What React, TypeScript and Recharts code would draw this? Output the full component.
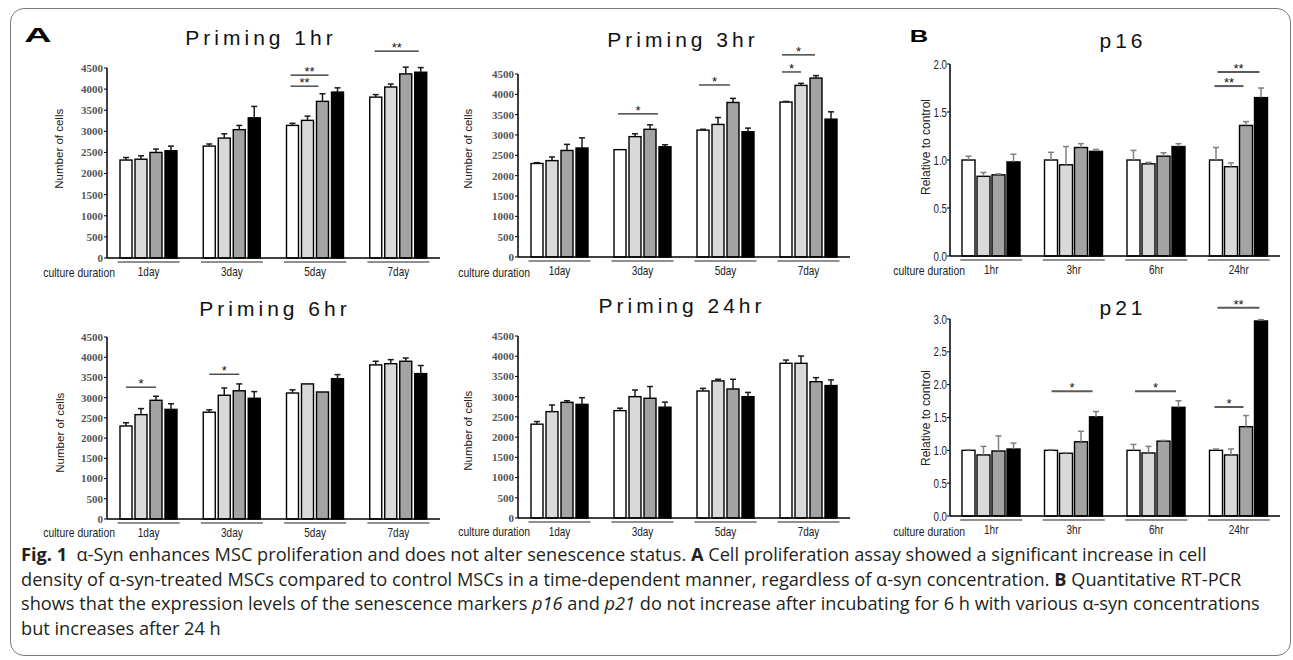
import React from "react";
import { Bar, BarChart, XAxis, YAxis } from "recharts";

const DAYS = ["1day", "3day", "5day", "7day"];
const HOURS = ["1hr", "3hr", "6hr", "24hr"];
const CELL_TICKS = [0, 500, 1000, 1500, 2000, 2500, 3000, 3500, 4000, 4500];
const P16_TICKS = [0, 0.5, 1, 1.5, 2];
const P21_TICKS = [0, 0.5, 1, 1.5, 2, 2.5, 3];
const FILLS = ["#ffffff", "#d9d9d9", "#a3a3a3", "#000000"];

// rows = culture duration, columns = the four α-syn conditions
const PRIMING_1HR_MEAN = [
  [2320, 2340, 2500, 2540],
  [2650, 2840, 3040, 3320],
  [3140, 3260, 3710, 3930],
  [3810, 4050, 4360, 4400],
];
const PRIMING_1HR_ERR = [
  [60, 80, 80, 110],
  [50, 100, 100, 270],
  [50, 100, 180, 100],
  [60, 70, 160, 110],
];

const PRIMING_3HR_MEAN = [
  [2300, 2370, 2620, 2680],
  [2640, 2960, 3140, 2710],
  [3120, 3260, 3800, 3080],
  [3810, 4220, 4400, 3390],
];
const PRIMING_3HR_ERR = [
  [20, 90, 150, 250],
  [0, 70, 110, 50],
  [20, 170, 100, 90],
  [15, 50, 60, 180],
];

const PRIMING_6HR_MEAN = [
  [2300, 2580, 2935, 2710],
  [2640, 3060, 3170, 2985],
  [3115, 3340, 3140, 3470],
  [3810, 3840, 3900, 3595],
];
const PRIMING_6HR_ERR = [
  [80, 150, 100, 140],
  [60, 180, 170, 165],
  [80, 0, 0, 100],
  [90, 100, 80, 200],
];

const PRIMING_24HR_MEAN = [
  [2320, 2630, 2860, 2810],
  [2655, 3000, 2960, 2740],
  [3140, 3390, 3190, 3000],
  [3825, 3825, 3370, 3275],
];
const PRIMING_24HR_ERR = [
  [65, 165, 40, 165],
  [60, 165, 290, 125],
  [65, 40, 240, 105],
  [80, 180, 100, 140],
];

const P16_MEAN = [
  [1.0, 0.83, 0.845, 0.98],
  [1.0, 0.95, 1.13, 1.09],
  [1.0, 0.96, 1.04, 1.14],
  [1.0, 0.93, 1.36, 1.65],
];
const P16_ERR = [
  [0.04, 0.04, 0.01, 0.08],
  [0.08, 0.19, 0.04, 0.02],
  [0.1, 0.015, 0.035, 0.03],
  [0.13, 0.04, 0.04, 0.1],
];

const P21_MEAN = [
  [1.0, 0.93, 0.99, 1.02],
  [1.0, 0.955, 1.13, 1.51],
  [1.0, 0.96, 1.14, 1.655],
  [1.0, 0.93, 1.36, 2.97],
];
const P21_ERR = [
  [0.01, 0.13, 0.23, 0.09],
  [0.01, 0.01, 0.16, 0.08],
  [0.09, 0.1, 0.01, 0.1],
  [0.02, 0.09, 0.17, 0.02],
];

// [group, from, to, level, mark] - from/to counted in bar pitches from the group's first bar
type Sig = [number, number, number, number, string];
const PRIMING_1HR_SIG: Sig[] = [
  [2, 0.27, 2.8, 4330, "**"],
  [2, 0.27, 2.13, 4070, "**"],
  [3, 0.33, 3.27, 4900, "**"],
];
const PRIMING_3HR_SIG: Sig[] = [
  [1, 0.27, 2.93, 3520, "*"],
  [2, 0.13, 2.2, 4230, "*"],
  [3, 0.13, 1.4, 4550, "*"],
  [3, 0.13, 2.33, 4970, "*"],
];
const PRIMING_6HR_SIG: Sig[] = [
  [0, 0.4, 2.4, 3260, "*"],
  [1, 0.4, 2.4, 3580, "*"],
];
const PRIMING_24HR_SIG: Sig[] = [];
const P16_SIG: Sig[] = [
  [3, 0.33, 2.27, 1.77, "**"],
  [3, 0.53, 3.33, 1.917, "**"],
];
const P21_SIG: Sig[] = [
  [1, 0.47, 3.2, 1.9, "*"],
  [2, 0.53, 3.27, 1.9, "*"],
  [3, 0.33, 2.27, 1.66, "*"],
  [3, 0.53, 3.33, 3.17, "**"],
];

const SANS = "'Liberation Sans', Arial, sans-serif";
const NARROW_SCALE = 0.8;

const A_STYLE = { barSize: 12, gap: 3, errColor: "#1a1a1a", sigColor: "#222", sigWidth: 1.2 };
const B_STYLE = { barSize: 13, gap: 2, errColor: "#808080", sigColor: "#5a5a5a", sigWidth: 2 };

type PanelProps = {
  left: number;
  top: number;
  width: number;
  height: number;
  plot: [number, number, number, number];
  cats: string[];
  mean: number[][];
  err: number[][];
  sig: Sig[];
  domain: [number, number];
  ticks: number[];
  kind: "A" | "B";
};

function GroupTick(props: any) {
  const { x, y, payload } = props;
  return (
    <g>
      <line x1={x - 31} x2={x + 31} y1={y + 4} y2={y + 4} stroke="#6b6b6b" strokeWidth={1.5} />
      <text
        transform={`translate(${x} ${y + 18}) scale(${NARROW_SCALE} 1)`}
        textAnchor="middle"
        fontFamily={SANS}
        fontSize={12.5}
        fill="#222"
      >
        {payload.value}
      </text>
    </g>
  );
}

function RatioTick(props: any) {
  const { x, y, payload } = props;
  return (
    <text
      transform={`translate(${x} ${y + 4.5}) scale(0.78 1)`}
      textAnchor="end"
      fontFamily={SANS}
      fontSize={12.5}
      fill="#222"
    >
      {Number(payload.value).toFixed(1)}
    </text>
  );
}

function Panel(p: PanelProps) {
  const st = p.kind === "A" ? A_STYLE : B_STYLE;
  const [pl, pt, pr, pb] = p.plot;
  const xAxisHeight = 28;
  const yAxisWidth = pl - p.left;
  const margin = {
    top: pt - p.top,
    left: 0,
    right: p.left + p.width - pr,
    bottom: p.top + p.height - pb - xAxisHeight,
  };
  const rows = p.cats.map((cat, i) => ({
    cat,
    s0: p.mean[i][0],
    s1: p.mean[i][1],
    s2: p.mean[i][2],
    s3: p.mean[i][3],
  }));

  const makeShape = (s: number) => (bp: any) => {
    const { x, y, width, height, index } = bp;
    const v = p.mean[index][s];
    const k = v ? height / v : 0;
    const base = y + height;
    const e = p.err[index][s] * k;
    const cx = x + width / 2;
    const pitch = width + st.gap;
    return (
      <g>
        <rect x={x} y={y} width={width} height={height} fill={FILLS[s]} stroke="#000" strokeWidth={1.4} />
        {e > 0.5 && (
          <g stroke={st.errColor} strokeWidth={1.5}>
            <line x1={cx} x2={cx} y1={y} y2={y - e} />
            <line x1={cx - 3} x2={cx + 3} y1={y - e} y2={y - e} />
          </g>
        )}
        {s === 0 &&
          p.sig
            .filter((g) => g[0] === index)
            .map((g, j) => {
              const ly = base - g[3] * k;
              const x1 = x + g[1] * pitch;
              const x2 = x + g[2] * pitch;
              return (
                <g key={j}>
                  <line x1={x1} x2={x2} y1={ly} y2={ly} stroke={st.sigColor} strokeWidth={st.sigWidth} />
                  <text x={(x1 + x2) / 2} y={ly + 1} textAnchor="middle" fontFamily={SANS} fontSize={13} fill="#111">
                    {g[4]}
                  </text>
                </g>
              );
            })}
      </g>
    );
  };

  return (
    <div style={{ position: "absolute", left: p.left, top: p.top }}>
      <BarChart
        width={p.width}
        height={p.height}
        data={rows}
        margin={margin}
        barGap={st.gap}
        barSize={st.barSize}
      >
        <XAxis
          dataKey="cat"
          height={xAxisHeight}
          interval={0}
          tickLine={false}
          tickSize={0}
          tickMargin={0}
          axisLine={{ stroke: "#000", strokeWidth: 1.5 }}
          tick={<GroupTick />}
        />
        {p.kind === "A" ? (
          <YAxis
            type="number"
            width={yAxisWidth}
            domain={p.domain}
            ticks={p.ticks}
            interval={0}
            tickSize={3}
            tickMargin={1}
            axisLine={{ stroke: "#000", strokeWidth: 1.5 }}
            tickLine={{ stroke: "#000" }}
            tick={{
              fontFamily: "'Liberation Serif', 'Times New Roman', serif",
              fontSize: 11,
              fontWeight: 700,
              fill: "#555",
            }}
          />
        ) : (
          <YAxis
            type="number"
            width={yAxisWidth}
            domain={p.domain}
            ticks={p.ticks}
            interval={0}
            tickSize={3}
            tickMargin={0}
            axisLine={{ stroke: "#000", strokeWidth: 1.5 }}
            tickLine={{ stroke: "#000" }}
            tick={<RatioTick />}
          />
        )}
        {[0, 1, 2, 3].map((s) => (
          <Bar key={s} dataKey={`s${s}`} isAnimationActive={false} shape={makeShape(s)} />
        ))}
      </BarChart>
    </div>
  );
}

function Abs({
  x,
  y,
  children,
  style,
  tx = "-50%",
}: {
  x: number;
  y: number;
  children: React.ReactNode;
  style?: React.CSSProperties;
  tx?: string;
}) {
  return (
    <div
      style={{
        position: "absolute",
        left: x,
        top: y,
        transform: `translate(${tx}, -50%)`,
        whiteSpace: "nowrap",
        lineHeight: 1,
      }}
    >
      <span style={{ display: "inline-block", ...style }}>{children}</span>
    </div>
  );
}

const titleStyle: React.CSSProperties = { fontFamily: SANS, fontSize: 21, letterSpacing: 4, marginRight: -4, color: "#111" };
const yLabelA: React.CSSProperties = { fontFamily: SANS, fontSize: 11.5, color: "#222", transform: "rotate(-90deg)" };
const yLabelB: React.CSSProperties = { fontFamily: SANS, fontSize: 12, color: "#222", transform: "rotate(-90deg)" };
const cdStyle: React.CSSProperties = {
  fontFamily: SANS,
  fontSize: 13,
  color: "#222",
  transform: `scaleX(${NARROW_SCALE})`,
  transformOrigin: "right center",
};

export default function App() {
  return (
    <div style={{ position: "relative", width: 1293, height: 660, background: "#fff", overflow: "hidden" }}>
      <style>{`body{margin:0}`}</style>
      <div
        style={{
          position: "absolute",
          left: 10,
          top: 8,
          width: 1281,
          height: 648,
          border: "1px solid #7a7a7a",
          borderRadius: 14,
          boxSizing: "border-box",
        }}
      />

      <Panel left={20} top={36} width={425} height={250} plot={[107, 68, 440, 258]} cats={DAYS}
        mean={PRIMING_1HR_MEAN} err={PRIMING_1HR_ERR} sig={PRIMING_1HR_SIG} domain={[0, 4500]} ticks={CELL_TICKS} kind="A" />
      <Panel left={450} top={36} width={405} height={250} plot={[518, 74, 850, 257]} cats={DAYS}
        mean={PRIMING_3HR_MEAN} err={PRIMING_3HR_ERR} sig={PRIMING_3HR_SIG} domain={[0, 4500]} ticks={CELL_TICKS} kind="A" />
      <Panel left={20} top={320} width={425} height={230} plot={[107, 337, 440, 519]} cats={DAYS}
        mean={PRIMING_6HR_MEAN} err={PRIMING_6HR_ERR} sig={PRIMING_6HR_SIG} domain={[0, 4500]} ticks={CELL_TICKS} kind="A" />
      <Panel left={450} top={320} width={405} height={230} plot={[518, 336, 850, 518]} cats={DAYS}
        mean={PRIMING_24HR_MEAN} err={PRIMING_24HR_ERR} sig={PRIMING_24HR_SIG} domain={[0, 4500]} ticks={CELL_TICKS} kind="A" />
      <Panel left={885} top={40} width={400} height={246} plot={[950, 64, 1280, 256]} cats={HOURS}
        mean={P16_MEAN} err={P16_ERR} sig={P16_SIG} domain={[0, 2]} ticks={P16_TICKS} kind="B" />
      <Panel left={885} top={290} width={400} height={260} plot={[950, 319, 1280, 516]} cats={HOURS}
        mean={P21_MEAN} err={P21_ERR} sig={P21_SIG} domain={[0, 3]} ticks={P21_TICKS} kind="B" />

      <Abs x={38} y={34} style={{ fontFamily: SANS, fontSize: 21, fontWeight: 700, transform: "scaleX(1.8)" }}>A</Abs>
      <Abs x={919} y={36} style={{ fontFamily: SANS, fontSize: 17, fontWeight: 700, transform: "scaleX(1.5)" }}>B</Abs>

      <Abs x={259} y={37} style={titleStyle}>Priming 1hr</Abs>
      <Abs x={681} y={39} style={titleStyle}>Priming 3hr</Abs>
      <Abs x={273} y={308} style={titleStyle}>Priming 6hr</Abs>
      <Abs x={680} y={305} style={titleStyle}>Priming 24hr</Abs>
      <Abs x={1121} y={40} style={titleStyle}>p16</Abs>
      <Abs x={1121} y={307} style={titleStyle}>p21</Abs>

      <Abs x={60} y={147} style={yLabelA}>Number of cells</Abs>
      <Abs x={469} y={147} style={yLabelA}>Number of cells</Abs>
      <Abs x={61} y={431} style={yLabelA}>Number of cells</Abs>
      <Abs x={469} y={429} style={yLabelA}>Number of cells</Abs>
      <Abs x={926} y={146} style={yLabelB}>Relative to control</Abs>
      <Abs x={926} y={417} style={yLabelB}>Relative to control</Abs>

      <Abs x={115} y={272} tx="-100%" style={cdStyle}>culture duration</Abs>
      <Abs x={530} y={272} tx="-100%" style={cdStyle}>culture duration</Abs>
      <Abs x={115} y={532} tx="-100%" style={cdStyle}>culture duration</Abs>
      <Abs x={530} y={531} tx="-100%" style={cdStyle}>culture duration</Abs>
      <Abs x={965} y={270} tx="-100%" style={cdStyle}>culture duration</Abs>
      <Abs x={965} y={531} tx="-100%" style={cdStyle}>culture duration</Abs>

      <div
        style={{
          position: "absolute",
          left: 21,
          top: 542,
          fontFamily: "'Open Sans', 'Noto Sans', sans-serif",
          fontSize: 18.2,
          lineHeight: "24.5px",
          color: "#231f20",
          whiteSpace: "nowrap",
        }}
      >
        <div>
          <b>Fig. 1</b>&nbsp; α-Syn enhances MSC proliferation and does not alter senescence status. <b>A</b> Cell
          proliferation assay showed a significant increase in cell
        </div>
        <div>
          density of α-syn-treated MSCs compared to control MSCs in a time-dependent manner, regardless of α-syn
          concentration. <b>B</b> Quantitative RT-PCR
        </div>
        <div>
          shows that the expression levels of the senescence markers <i>p16</i> and <i>p21</i> do not increase after
          incubating for 6 h with various α-syn concentrations
        </div>
        <div>but increases after 24 h</div>
      </div>
    </div>
  );
}
